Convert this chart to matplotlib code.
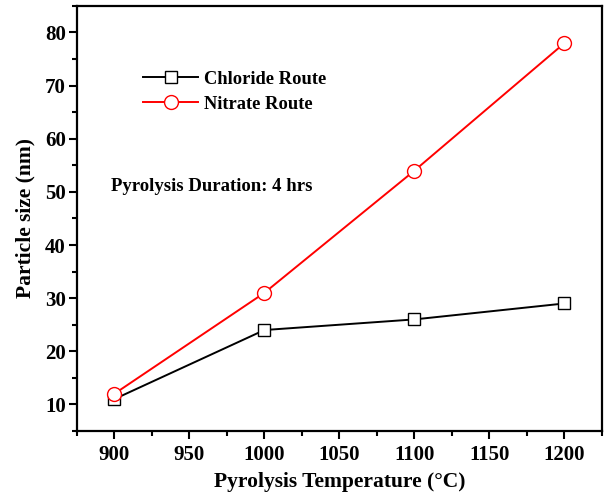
import matplotlib
matplotlib.use("Agg")
import matplotlib.pyplot as plt
from matplotlib.ticker import MultipleLocator

temps = [900, 1000, 1100, 1200]
chloride = [11, 24, 26, 29]
nitrate = [12, 31, 54, 78]

plt.rcParams["font.family"] = "Liberation Serif"
plt.rcParams["font.weight"] = "bold"

fig = plt.figure(figsize=(6.05, 4.92), dpi=100)
ax = fig.add_axes([0.127, 0.124, 0.868, 0.864])

ax.plot(temps, chloride, color="black", lw=1.4, marker="s", ms=9,
        mfc="white", mec="black", mew=1.0, label="Chloride Route")
ax.plot(temps, nitrate, color="red", lw=1.4, marker="o", ms=10,
        mfc="white", mec="red", mew=1.0, label="Nitrate Route")

ax.set_xlim(875, 1225)
ax.set_ylim(5, 85)
ax.xaxis.set_major_locator(MultipleLocator(50))
ax.xaxis.set_minor_locator(MultipleLocator(25))
ax.yaxis.set_major_locator(plt.FixedLocator([10, 20, 30, 40, 50, 60, 70, 80]))
ax.yaxis.set_minor_locator(MultipleLocator(5))

ax.tick_params(which="major", direction="out", length=6, width=1.5,
               labelsize=15, pad=2)
ax.tick_params(axis="x", which="major", pad=4)
ax.tick_params(which="minor", direction="out", length=3.5, width=1.5)
for s in ax.spines.values():
    s.set_linewidth(1.6)

ax.set_xlabel("Pyrolysis Temperature (°C)", fontsize=15.5, fontweight="bold", labelpad=5)
ax.set_ylabel("Particle size (nm)", fontsize=15.5, fontweight="bold", labelpad=7)

ax.legend(loc="upper left", bbox_to_anchor=(0.126, 0.848), frameon=False,
          borderpad=0, borderaxespad=0, fontsize=13.3, handlelength=3.0,
          handletextpad=0.3, labelspacing=0.45)
ax.text(0.066, 0.565, "Pyrolysis Duration: 4 hrs", transform=ax.transAxes,
        fontsize=13.5, fontweight="bold")

fig.savefig("out.png", dpi=100)
